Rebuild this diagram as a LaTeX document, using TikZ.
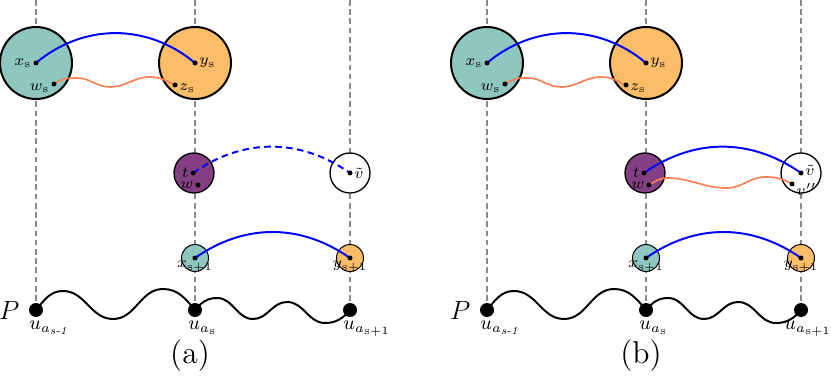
\documentclass[tikz,border=0pt]{standalone}
\usepackage{amsmath}
\usepackage{xcolor}
\usepackage{tikz}
\usetikzlibrary{positioning}
\definecolor{BlobTeal}{HTML}{8EC7C0}
\definecolor{BlobOrange}{HTML}{FCBD68}
\definecolor{BlobPurple}{HTML}{843F83}
\definecolor{WaveCoral}{HTML}{FF7F50}
\definecolor{GuideGray}{HTML}{8A8A8A}
\pgfdeclarelayer{front}
\pgfsetlayers{main,front}

\begin{document}
\begin{tikzpicture}[
            x=0.016cm, y=0.016cm,
            bigblob/.style={circle, draw=black, line width=0.9pt, minimum size=1.152cm, inner sep=0pt},
            midblob/.style={circle, draw=black, line width=0.6pt, minimum size=0.64cm, inner sep=0pt},
            smallblob/.style={circle, draw=black, line width=0.45pt, minimum size=0.432cm, inner sep=0pt},
            dot/.style={circle, fill=black, inner sep=0pt, minimum size=0.08cm},
            pathdot/.style={circle, fill=black, inner sep=0pt, minimum size=0.224cm},
            lab/.style={font=\scriptsize, inner sep=0.5pt},
            ulab/.style={anchor=north west, inner sep=0pt, font=\small},
            plab/.style={font=\large, inner sep=0pt},
            guide/.style={GuideGray, line width=0.6pt, dash pattern=on 2.6pt off 1.6pt},
            bluelink/.style={blue, line width=0.9pt},
            wavelink/.style={WaveCoral, line width=0.75pt},
            pathline/.style={black, line width=0.9pt}
        ]
            \useasboundingbox (0,0) rectangle (831,-378);

            % panel (a)
            \coordinate (a-top1) at (36,0);
            \coordinate (a-top2) at (195,0);
            \coordinate (a-top3) at (350,0);
            \coordinate (a-bot1) at (36,-310);
            \coordinate (a-bot2) at (195,-310);
            \coordinate (a-bot3) at (350,-310);
            \draw[guide] (a-top1) -- (a-bot1);
            \draw[guide] (a-top2) -- (a-bot2);
            \draw[guide] (a-top3) -- (a-bot3);

            \node[bigblob, fill=BlobTeal] (a-X) at (36,-63) {};
            \node[bigblob, fill=BlobOrange] (a-Y) at (195,-63) {};
            \node[midblob, fill=BlobPurple] (a-T) at (194,-173) {};
            \node[midblob, fill=white] (a-V) at (350,-173) {};
            \node[smallblob, fill=BlobTeal] (a-X1) at (195,-258) {};
            \node[smallblob, fill=BlobOrange] (a-Y1) at (350,-258) {};

            \begin{pgfonlayer}{front}
            \node[dot, label={[lab]left:$x_\mathrm{s}$}] (a-xs) at (36,-63) {};
            \node[dot, label={[lab, yshift=-2pt]left:$w_\mathrm{s}$}] (a-ws) at (54,-84) {};
            \node[dot, label={[lab]right:$y_\mathrm{s}$}] (a-ys) at (195,-63) {};
            \node[dot, label={[lab, yshift=-1.5pt]right:$z_\mathrm{s}$}] (a-zs) at (175,-85) {};
            \node[dot, label={[lab]left:$t$}] (a-t) at (193,-173) {};
            \node[dot, label={[lab]left:$w$}] (a-w) at (198,-185) {};
            \node[dot, label={[lab]right:$\tilde{v}$}] (a-v) at (350,-173) {};
            \node[dot, label={[lab, inner sep=0pt]below:$x_{\mathrm{s}+1}$}] (a-xs1) at (195,-258) {};
            \node[dot, label={[lab, inner sep=0pt]below:$y_{\mathrm{s}+1}$}] (a-ys1) at (350,-258) {};
            \end{pgfonlayer}

            \draw[bluelink] (a-xs.center) to[bend left=40] (a-ys.center);
            \draw[bluelink, dash pattern=on 3pt off 2pt] (a-t.center) to[bend left=35] (a-v.center);
            \draw[bluelink] (a-xs1.center) to[bend left=35] (a-ys1.center);
            \draw[wavelink] (a-ws.center) to[out=35,in=180] (77,-78) to[out=0,in=180] (110,-87)
                to[out=0,in=180] (150,-77) to[out=0,in=155] (a-zs.center);

            \node[pathdot] (a-u1) at (36,-310) {};
            \node[pathdot] (a-u2) at (195,-310) {};
            \node[pathdot] (a-u3) at (350,-310) {};
            \draw[pathline] (a-u1.center) to[out=50,in=180] (63,-291) to[out=0,in=180] (113,-319)
                to[out=0,in=180] (163,-289) to[out=0,in=130] (a-u2.center);
            \draw[pathline] (a-u2.center) to[out=50,in=180] (217,-298) to[out=0,in=180] (253,-319)
                to[out=0,in=180] (287,-302) to[out=0,in=180] (325,-323) to[out=0,in=230] (a-u3.center);

            \node[plab, left=4pt of a-u1] (a-P) {$P$};
            \node[ulab] (a-u1-lab) at (29,-321) {$u_{a_{\textit{s-1}}}$};
            \node[ulab] (a-u2-lab) at (188,-321) {$u_{a_\mathrm{s}}$};
            \node[ulab] (a-u3-lab) at (343,-321) {$u_{a_{\mathrm{s}+1}}$};
            \node[font=\Large] (a-cap) at (190,-356) {(a)};

            % panel (b)
            \begin{scope}[shift={(451,0)}]
            \coordinate (b-top1) at (36,0);
            \coordinate (b-top2) at (195,0);
            \coordinate (b-top3) at (350,0);
            \coordinate (b-bot1) at (36,-310);
            \coordinate (b-bot2) at (195,-310);
            \coordinate (b-bot3) at (350,-310);
            \draw[guide] (b-top1) -- (b-bot1);
            \draw[guide] (b-top2) -- (b-bot2);
            \draw[guide] (b-top3) -- (b-bot3);

            \node[bigblob, fill=BlobTeal] (b-X) at (36,-63) {};
            \node[bigblob, fill=BlobOrange] (b-Y) at (195,-63) {};
            \node[midblob, fill=BlobPurple] (b-T) at (194,-173) {};
            \node[midblob, fill=white] (b-V) at (350,-173) {};
            \node[smallblob, fill=BlobTeal] (b-X1) at (195,-258) {};
            \node[smallblob, fill=BlobOrange] (b-Y1) at (350,-258) {};

            \begin{pgfonlayer}{front}
            \node[dot, label={[lab]left:$x_\mathrm{s}$}] (b-xs) at (36,-63) {};
            \node[dot, label={[lab, yshift=-2pt]left:$w_\mathrm{s}$}] (b-ws) at (54,-84) {};
            \node[dot, label={[lab]right:$y_\mathrm{s}$}] (b-ys) at (195,-63) {};
            \node[dot, label={[lab, yshift=-1.5pt]right:$z_\mathrm{s}$}] (b-zs) at (175,-85) {};
            \node[dot, label={[lab]left:$t$}] (b-t) at (193,-173) {};
            \node[dot, label={[lab]left:$w$}] (b-w) at (198,-185) {};
            \node[dot, label={[lab, yshift=1pt]right:$\tilde{v}$}] (b-v) at (350,-173) {};
            \node[dot, label={[lab, yshift=-2.5pt]right:$v''$}] (b-v2) at (341,-184) {};
            \node[dot, label={[lab, inner sep=0pt]below:$x_{\mathrm{s}+1}$}] (b-xs1) at (195,-258) {};
            \node[dot, label={[lab, inner sep=0pt]below:$y_{\mathrm{s}+1}$}] (b-ys1) at (350,-258) {};
            \end{pgfonlayer}

            \draw[bluelink] (b-xs.center) to[bend left=40] (b-ys.center);
            \draw[bluelink] (b-t.center) to[bend left=35] (b-v.center);
            \draw[bluelink] (b-xs1.center) to[bend left=35] (b-ys1.center);
            \draw[wavelink] (b-ws.center) to[out=35,in=180] (77,-78) to[out=0,in=180] (110,-87)
                to[out=0,in=180] (150,-77) to[out=0,in=155] (b-zs.center);
            \draw[wavelink] (b-w.center) to[out=30,in=180] (216,-178) to[out=0,in=180] (276,-188)
                to[out=0,in=180] (314,-177) to[out=0,in=150] (b-v2.center);

            \node[pathdot] (b-u1) at (36,-310) {};
            \node[pathdot] (b-u2) at (195,-310) {};
            \node[pathdot] (b-u3) at (350,-310) {};
            \draw[pathline] (b-u1.center) to[out=50,in=180] (63,-291) to[out=0,in=180] (113,-319)
                to[out=0,in=180] (163,-289) to[out=0,in=130] (b-u2.center);
            \draw[pathline] (b-u2.center) to[out=50,in=180] (217,-298) to[out=0,in=180] (253,-319)
                to[out=0,in=180] (287,-302) to[out=0,in=180] (325,-323) to[out=0,in=230] (b-u3.center);

            \node[plab, left=4pt of b-u1] (b-P) {$P$};
            \node[ulab] (b-u1-lab) at (29,-321) {$u_{a_{\textit{s-1}}}$};
            \node[ulab] (b-u2-lab) at (188,-321) {$u_{a_\mathrm{s}}$};
            \node[ulab] (b-u3-lab) at (333,-321) {$u_{a_{\mathrm{s}+1}}$};
            \node[font=\Large] (b-cap) at (190,-356) {(b)};
            \end{scope}

        \end{tikzpicture}
\end{document}
